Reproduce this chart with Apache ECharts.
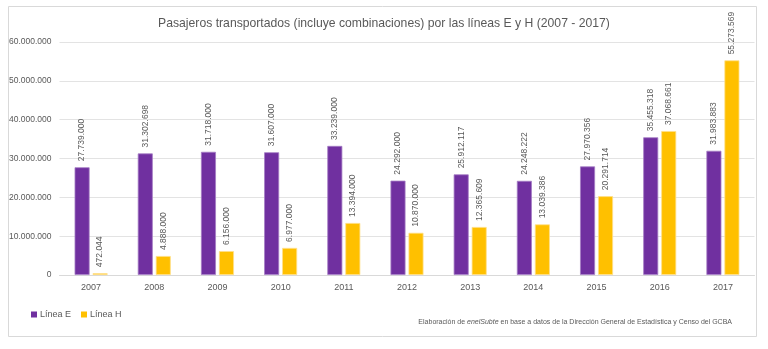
<!DOCTYPE html>
<html>
<head>
<meta charset="utf-8">
<script src="https://cdn.jsdelivr.net/npm/echarts@6/dist/echarts.min.js"></script>
<style>
  html, body { margin: 0; padding: 0; background: #fff; }
  #chart { width: 768px; height: 349px; }
</style>
</head>
<body>
<div id="chart"></div>
<script>
// Passengers carried per year (including transfers), lines E and H
const years = ['2007', '2008', '2009', '2010', '2011', '2012', '2013', '2014', '2015', '2016', '2017'];
const lineaE = [27739000, 31302698, 31718000, 31607000, 33239000, 24292000, 25912117, 24248222, 27970356, 35455318, 31983883];
const lineaH = [472044, 4888000, 6156000, 6977000, 13394000, 10870000, 12365609, 13039386, 20291714, 37068661, 55273569];
const yTicks = [0, 10000000, 20000000, 30000000, 40000000, 50000000, 60000000];

const FONT = '"Liberation Sans", Arial, sans-serif';
const TEXT = '#595959';

// Thousands separated with dots
function fmt(v) {
  return String(Math.round(v)).replace(/\B(?=(\d{3})+(?!\d))/g, '.');
}

const chart = echarts.init(document.getElementById('chart'), null, { renderer: 'canvas' });

const barLabel = {
  show: true,
  position: 'top',
  rotate: 90,
  align: 'left',
  verticalAlign: 'middle',
  distance: 6,
  fontFamily: FONT,
  fontSize: 8.5,
  color: TEXT,
  formatter: p => fmt(p.value)
};

chart.setOption({
  backgroundColor: '#fff',
  animation: false,
  title: {
    text: 'Pasajeros transportados (incluye combinaciones) por las líneas E y H (2007 - 2017)',
    left: 'center',
    top: 13,
    textStyle: { fontFamily: FONT, fontSize: 12.2, fontWeight: 'normal', color: TEXT }
  },
  legend: {
    left: 26,
    top: 305,
    itemWidth: 6,
    itemHeight: 6,
    itemGap: 10,
    icon: 'rect',
    itemStyle: { borderWidth: 0 },
    textStyle: { fontFamily: FONT, fontSize: 9, color: TEXT, padding: [0, 0, 0, -2] },
    data: ['Línea E', 'Línea H']
  },
  grid: { left: 59.5, right: 13.5, top: 42, bottom: 74 },
  xAxis: {
    type: 'category',
    data: years,
    axisLine: { lineStyle: { color: '#d9d9d9', width: 1 } },
    axisTick: { show: false },
    axisLabel: { fontFamily: FONT, fontSize: 9, color: TEXT, margin: 8 }
  },
  yAxis: {
    type: 'value',
    min: yTicks[0],
    max: yTicks[yTicks.length - 1],
    interval: yTicks[1] - yTicks[0],
    axisLine: { show: false },
    axisTick: { show: false },
    splitLine: { lineStyle: { color: '#e3e3e3', width: 1 } },
    axisLabel: { fontFamily: FONT, fontSize: 8.5, color: TEXT, margin: 8, formatter: v => fmt(v) }
  },
  series: [
    {
      name: 'Línea E',
      type: 'bar',
      data: lineaE,
      barWidth: 15,
      barGap: '20%',
      itemStyle: { color: '#7030A0', borderColor: '#a47cc4', borderWidth: 0.8 },
      label: barLabel
    },
    {
      name: 'Línea H',
      type: 'bar',
      data: lineaH,
      barWidth: 15,
      itemStyle: { color: '#FFC000', borderColor: '#ffe08a', borderWidth: 0.8 },
      label: barLabel
    }
  ],
  graphic: [
    {
      type: 'rect',
      shape: { x: 8.5, y: 6.5, width: 748, height: 330 },
      style: { fill: null, stroke: '#d9d9d9', lineWidth: 1 },
      silent: true,
      z: -1
    },
    {
      type: 'text',
      right: 36,
      top: 319,
      style: {
        rich: {
          n: { fontFamily: FONT, fontSize: 7, fill: TEXT },
          i: { fontFamily: FONT, fontSize: 7, fill: TEXT, fontStyle: 'italic' }
        },
        text: '{n|Elaboración de }{i|enelSubte}{n| en base a datos de la Dirección General de Estadística y Censo del GCBA}'
      }
    }
  ]
});
</script>
</body>
</html>
